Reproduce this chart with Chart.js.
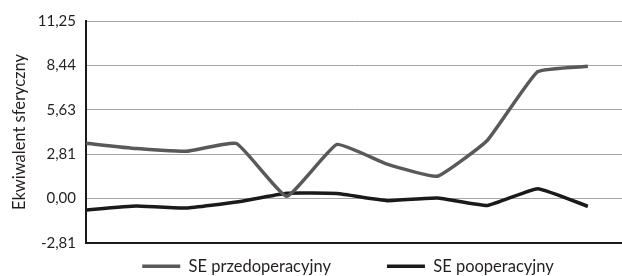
<!DOCTYPE html>
<html>
<head>
<meta charset="utf-8">
<script src="https://cdn.jsdelivr.net/npm/chart.js@4.4.1/dist/chart.umd.min.js"></script>
<style>
  html, body { margin: 0; padding: 0; background: #fff; }
  #wrap { width: 622px; height: 276px; position: relative; }
</style>
</head>
<body>
<div id="wrap"><canvas id="seChart"></canvas></div>
<script>
// values
const categories = ['1', '2', '3', '4', '5', '6', '7', '8', '9', '10', '11'];
const sePrzed = [3.51, 3.17, 3.00, 3.49, 0.15, 3.43, 2.18, 1.42, 3.70, 8.04, 8.38];
const sePo = [-0.72, -0.47, -0.60, -0.22, 0.34, 0.32, -0.13, 0.04, -0.43, 0.63, -0.49];
const yTickValues = [-2.8125, 0, 2.8125, 5.625, 8.4375, 11.25];
const yTickLabels = ['-2,81', '0,00', '2,81', '5,63', '8,44', '11,25'];

const FONT = "Lato, 'Liberation Sans', sans-serif";
const TEXT = '#231f20';

// legend placement tweaks (Excel puts it in its own strip under the plot)
const LEGEND_HEIGHT = 33;
const LEGEND_SHIFT_X = 37;
const LEGEND_SHIFT_Y = -41;

const toPoints = (arr) => arr.map((v, i) => ({ x: i, y: v }));

const legendPlacer = {
    id: 'legendPlacer',
    beforeUpdate(chart) {
        const legend = chart.legend;
        if (!legend || legend._patched) return;
        const origFit = legend.fit;
        legend.fit = function () {
            origFit.call(this);
            this.height = LEGEND_HEIGHT;
        };
        legend._patched = true;
    },
    afterLayout(chart) {
        const legend = chart.legend;
        if (!legend) return;
        // move the drawing origin, keep the bottom so the clip box still holds the labels
        legend.left += LEGEND_SHIFT_X;
        legend.right += LEGEND_SHIFT_X;
        legend.top += LEGEND_SHIFT_Y;
    }
};

const ctx = document.getElementById('seChart').getContext('2d');

new Chart(ctx, {
    type: 'line',
    data: {
        labels: categories,
        datasets: [
            {
                label: 'SE przedoperacyjny',
                data: toPoints(sePrzed),
                borderColor: '#595959',
                backgroundColor: '#595959',
                borderWidth: 3.5,
                pointRadius: 0,
                tension: 0.12
            },
            {
                label: 'SE pooperacyjny',
                data: toPoints(sePo),
                borderColor: '#1a1a1a',
                backgroundColor: '#1a1a1a',
                borderWidth: 3.5,
                pointRadius: 0,
                tension: 0.12
            }
        ]
    },
    options: {
        responsive: true,
        maintainAspectRatio: false,
        animation: false,
        layout: { padding: { top: 21, right: 0, bottom: 0, left: 0 } },
        scales: {
            x: {
                type: 'linear',
                min: 0,
                max: 10.68,
                ticks: { display: false },
                grid: { display: false },
                border: { display: true, color: '#1a1a1a', width: 2 },
                afterFit: (scale) => { scale.height = 0; }
            },
            y: {
                min: yTickValues[0],
                max: yTickValues[yTickValues.length - 1],
                afterBuildTicks: (scale) => {
                    scale.ticks = yTickValues.map(v => ({ value: v }));
                },
                ticks: {
                    color: TEXT,
                    font: { family: FONT, size: 15 },
                    padding: 10,
                    callback: (value, index) => yTickLabels[index]
                },
                grid: { color: '#a6a6a6', lineWidth: 1, drawTicks: false },
                border: { display: true, color: '#1a1a1a', width: 2 },
                title: {
                    display: true,
                    text: 'Ekwiwalent sferyczny',
                    color: TEXT,
                    font: { family: FONT, size: 16.5 },
                    padding: { top: 10, bottom: 0 }
                },
                afterFit: (scale) => { scale.width = 86; }
            }
        },
        plugins: {
            legend: {
                position: 'bottom',
                labels: {
                    color: TEXT,
                    font: { family: FONT, size: 16.5 },
                    usePointStyle: true,
                    pointStyle: 'line',
                    pointStyleWidth: 38,
                    padding: 56
                }
            },
            tooltip: { enabled: false }
        }
    },
    plugins: [legendPlacer]
});
</script>
</body>
</html>
